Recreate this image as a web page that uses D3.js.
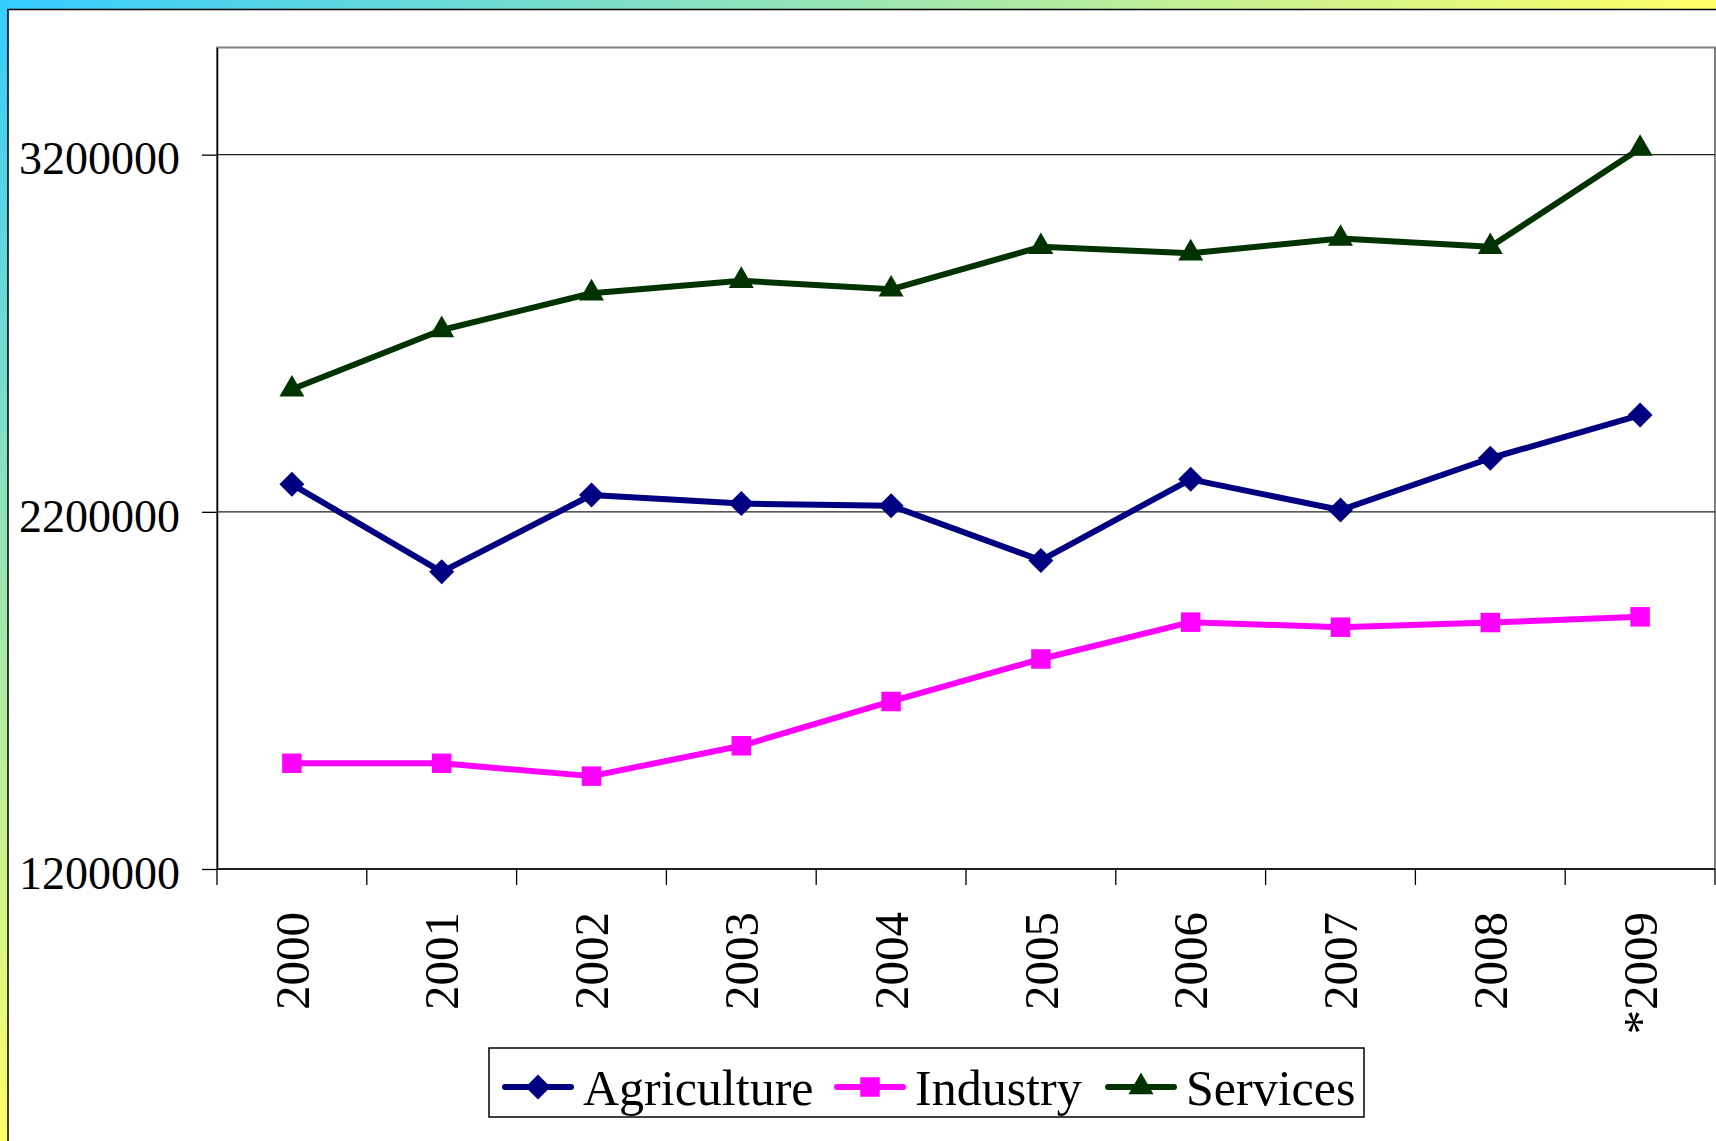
<!DOCTYPE html>
<html>
<head>
<meta charset="utf-8">
<script src="https://d3js.org/d3.v7.min.js"></script>
<style>
  body { margin: 0; padding: 0; overflow: hidden; }
  svg { display: block; }
</style>
</head>
<body>
<div id="chart"></div>
<script>
var width = 1716;
var height = 1141;
var margin = {top: 47.5, right: 1, bottom: 272, left: 217};
var fontFam = '"Liberation Serif", "Times New Roman", serif';

// data
var years = ['2000', '2001', '2002', '2003', '2004', '2005', '2006', '2007', '2008', '*2009'];
var agriculture = [2277000, 2032000, 2247000, 2223000, 2217000, 2064000, 2291000, 2205000, 2350000, 2471000];
var industry = [1496000, 1496000, 1460000, 1545000, 1669000, 1788000, 1891000, 1877000, 1890000, 1906000];
var services = [2543000, 2709000, 2812000, 2847000, 2823000, 2942000, 2924000, 2965000, 2942000, 3217000];
var yTicks = [1200000, 2200000, 3200000];
var seriesNames = ['Agriculture', 'Industry', 'Services'];
var seriesColors = ['#000080', '#FF00FF', '#003300'];
var seriesValues = [agriculture, industry, services];

var svg = d3.select('#chart').append('svg')
    .attr('width', width)
    .attr('height', height);

// background gradient (cyan -> yellow)
var defs = svg.append('defs');
var grad = defs.append('linearGradient')
    .attr('id', 'bg')
    .attr('x1', 0).attr('y1', 0).attr('x2', 1).attr('y2', 1);
grad.append('stop').attr('offset', '0').attr('stop-color', '#33CCFF');
grad.append('stop').attr('offset', '0.5').attr('stop-color', '#FFFF66');
grad.append('stop').attr('offset', '1').attr('stop-color', '#FFFF66');

svg.append('rect')
    .attr('width', width).attr('height', height)
    .attr('fill', 'url(#bg)');

// white panel
svg.append('rect')
    .attr('x', 8).attr('y', 9.5)
    .attr('width', width + 20).attr('height', height + 20)
    .attr('fill', 'white')
    .attr('stroke', 'black')
    .attr('stroke-width', 1.5);

var plotW = width - margin.left - margin.right;
var plotH = height - margin.top - margin.bottom;

var xScale = d3.scaleBand()
    .domain(years)
    .range([margin.left, margin.left + plotW])
    .padding(0);

var yScale = d3.scaleLinear()
    .domain([1200000, 3500000])
    .range([margin.top + plotH, margin.top]);

// plot area border
svg.append('rect')
    .attr('x', margin.left).attr('y', margin.top)
    .attr('width', plotW).attr('height', plotH)
    .attr('fill', 'white')
    .attr('stroke', '#808080')
    .attr('stroke-width', 2);

// gridlines
svg.selectAll('.grid')
    .data(yTicks.slice(1))
    .enter().append('line')
      .attr('class', 'grid')
      .attr('x1', margin.left).attr('x2', margin.left + plotW)
      .attr('y1', function(d) { return yScale(d); })
      .attr('y2', function(d) { return yScale(d); })
      .attr('stroke', '#222')
      .attr('stroke-width', 1.2);

// y axis
var yAxis = svg.append('g')
    .attr('transform', 'translate(' + margin.left + ',0)')
    .call(d3.axisLeft(yScale).tickValues(yTicks).tickSize(15).tickSizeOuter(0)
      .tickPadding(0).tickFormat(d3.format('d')));
yAxis.select('.domain').attr('stroke', 'black').attr('stroke-width', 1.5);
yAxis.selectAll('.tick line').attr('stroke', 'black').attr('stroke-width', 1.3);
yAxis.selectAll('.tick text')
    .attr('x', -37)
    .attr('dy', '0.42em')
    .attr('fill', 'black')
    .style('font-family', fontFam)
    .style('font-size', '46px');

// x axis line + ticks between categories
var xBase = margin.top + plotH;
svg.append('line')
    .attr('x1', margin.left).attr('x2', margin.left + plotW)
    .attr('y1', xBase).attr('y2', xBase)
    .attr('stroke', 'black').attr('stroke-width', 1.5);

var bounds = years.map(function(d) { return xScale(d); });
bounds.push(margin.left + plotW);
svg.selectAll('.xtick')
    .data(bounds)
    .enter().append('line')
      .attr('class', 'xtick')
      .attr('x1', function(d) { return d; })
      .attr('x2', function(d) { return d; })
      .attr('y1', xBase).attr('y2', xBase + 16)
      .attr('stroke', 'black').attr('stroke-width', 1.3);

// rotated year labels
svg.selectAll('.xlabel')
    .data(years)
    .enter().append('text')
      .attr('class', 'xlabel')
      .attr('transform', function(d) {
        return 'translate(' + (xScale(d) + xScale.bandwidth() / 2) + ',' + (xBase + 43) + ') rotate(-90)';
      })
      .attr('text-anchor', 'end')
      .attr('dy', '0.34em')
      .style('font-family', fontFam)
      .style('font-size', '49px')
      .text(function(d) { return d; });

// markers
var diamondPath = 'M0,-12.5L12.5,0L0,12.5L-12.5,0Z';
var squarePath = d3.symbol().type(d3.symbolSquare).size(380)();
var trianglePath = d3.symbol().type(d3.symbolTriangle).size(270)();
var markerPaths = [diamondPath, squarePath, trianglePath];

var line = d3.line()
    .x(function(d, i) { return xScale(years[i]) + xScale.bandwidth() / 2; })
    .y(function(d) { return yScale(d); });

seriesValues.forEach(function(vals, k) {
  svg.append('path')
      .datum(vals)
      .attr('d', line)
      .attr('fill', 'none')
      .attr('stroke', seriesColors[k])
      .attr('stroke-width', 6)
      .attr('stroke-linejoin', 'round');

  svg.selectAll('.m' + k)
      .data(vals)
      .enter().append('path')
        .attr('class', 'm' + k)
        .attr('d', markerPaths[k])
        .attr('transform', function(d, i) {
          return 'translate(' + (xScale(years[i]) + xScale.bandwidth() / 2) + ',' + yScale(d) + ')';
        })
        .attr('fill', seriesColors[k]);
});

// legend
var legend = svg.append('g');
legend.append('rect')
    .attr('x', 489).attr('y', 1048)
    .attr('width', 875).attr('height', 69)
    .attr('fill', 'white')
    .attr('stroke', 'black')
    .attr('stroke-width', 1.5);

var legendX = [505, 837, 1108];
var legendY = 1087;
seriesNames.forEach(function(name, k) {
  var lx = legendX[k];
  legend.append('line')
      .attr('x1', lx).attr('x2', lx + 66)
      .attr('y1', legendY).attr('y2', legendY)
      .attr('stroke', seriesColors[k])
      .attr('stroke-width', 6)
      .attr('stroke-linecap', 'round');
  legend.append('path')
      .attr('d', markerPaths[k])
      .attr('transform', 'translate(' + (lx + 33) + ',' + legendY + ')')
      .attr('fill', seriesColors[k]);
  legend.append('text')
      .attr('x', lx + 78)
      .attr('y', legendY + 18)
      .style('font-family', fontFam)
      .style('font-size', '50px')
      .text(name);
});
</script>
</body>
</html>
